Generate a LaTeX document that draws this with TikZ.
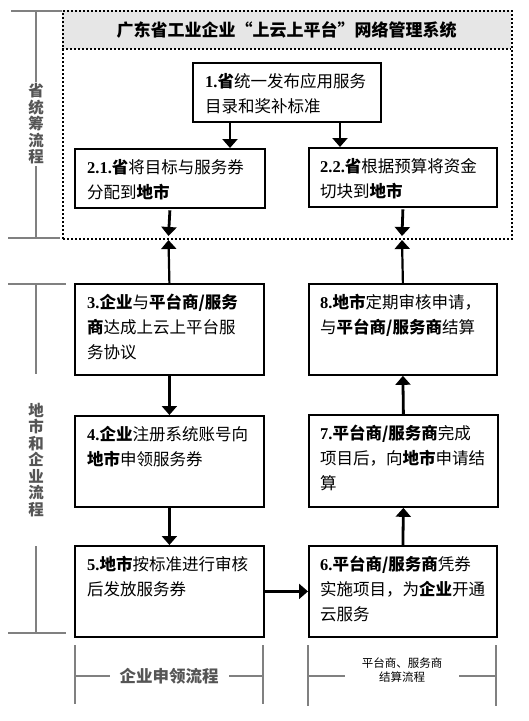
\documentclass[tikz,border=0pt]{standalone}
\usepackage{fontspec}
\setmainfont{Noto Sans CJK SC}
\newfontfamily\numf{Liberation Serif}
\usetikzlibrary{arrows.meta,calc}
\definecolor{hdrgray}{HTML}{E6E6E6}
\definecolor{lblgray}{HTML}{555555}
\definecolor{brgray}{HTML}{808080}
\newcommand\Bd[1]{\textbf{#1}}
\newcommand\Nm[1]{{\numf\bfseries #1}}
\begin{document}
\begin{tikzpicture}[x=1pt,y=-1pt,
  box/.style={draw, line width=1.8pt, anchor=north west, inner sep=0pt},
  txt/.style={anchor=north west, inner sep=0pt, align=left, font=\fontsize{16.5pt}{25pt}\selectfont},
  arr/.style={line width=2.8pt, -{Triangle[length=9pt,width=15pt]}},
  arrup/.style={line width=2.2pt, -{Triangle[length=9pt,width=15pt]}},
  dots/.style={line width=2pt, dash pattern=on 2pt off 2pt},
  brk/.style={draw=brgray, line width=1.6pt},
  side/.style={fill=white, text=lblgray, font=\fontsize{15.5pt}{16.5pt}\selectfont\bfseries, align=center, inner xsep=2pt, inner ysep=1.5pt}
]
\useasboundingbox (0,0) rectangle (529,721);
\fill[white] (0,0) rectangle (529,721);

% system frame
\node[anchor=north west, fill=hdrgray, minimum width=449pt, minimum height=39pt, inner sep=0pt] (hdr) at (62,10) {};
\node[font=\fontsize{17pt}{20pt}\selectfont\bfseries] (title) at (hdr.center) {广东省工业企业“上云上平台”网络管理系统};
\node[anchor=north west, minimum width=449pt, minimum height=228pt, inner sep=0pt, draw, dots] (sys) at (62,10) {};
\draw[dots] (hdr.south west) -- (hdr.south east);

% boxes
\node[box, minimum width=188pt, minimum height=59pt] (b1) at (192,62) {};
\node[txt] (t1) at ($(b1.north west)+(13,7.5)$) {\strut\Nm{1.}\Bd{省}统一发布应用服务\\目录和奖补标准};

\node[box, minimum width=190pt, minimum height=59pt] (b21) at (74,148) {};
\node[txt] (t21) at ($(b21.north west)+(13,7.5)$) {\strut\Nm{2.1.}\Bd{省}将目标与服务券\\分配到\Bd{地市}};

\node[box, minimum width=188pt, minimum height=59pt] (b22) at (308,147) {};
\node[txt] (t22) at ($(b22.north west)+(12,7.5)$) {\strut\Nm{2.2.}\Bd{省}根据预算将资金\\切块到\Bd{地市}};

\node[box, minimum width=189pt, minimum height=91pt] (b3) at (74,283) {};
\node[txt] (t3) at ($(b3.north west)+(13,7.5)$) {\strut\Nm{3.}\Bd{企业}与\Bd{平台商/服务}\\\Bd{商}达成上云上平台服\\务协议};

\node[box, minimum width=188pt, minimum height=91pt] (b8) at (308,283) {};
\node[txt] (t8) at ($(b8.north west)+(12,7.5)$) {\strut\Nm{8.}\Bd{地市}定期审核申请，\\与\Bd{平台商/服务商}结算};

\node[box, minimum width=189pt, minimum height=91pt] (b4) at (74,415) {};
\node[txt] (t4) at ($(b4.north west)+(13,7.5)$) {\strut\Nm{4.}\Bd{企业}注册系统账号向\\\Bd{地市}申领服务券};

\node[box, minimum width=189pt, minimum height=92pt] (b7) at (308,414) {};
\node[txt] (t7) at ($(b7.north west)+(12,7.5)$) {\strut\Nm{7.}\Bd{平台商/服务商}完成\\项目后，向\Bd{地市}申请结\\算};

\node[box, minimum width=189pt, minimum height=91pt] (b5) at (74,545) {};
\node[txt] (t5) at ($(b5.north west)+(13,7.5)$) {\strut\Nm{5.}\Bd{地市}按标准进行审核\\后发放服务券};

\node[box, minimum width=188pt, minimum height=91pt] (b6) at (308,545) {};
\node[txt] (t6) at ($(b6.north west)+(12,7.5)$) {\strut\Nm{6.}\Bd{平台商/服务商}凭券\\实施项目，为\Bd{企业}开通\\云服务};

% free ends at the frame
\coordinate (m1) at (168.5,236);
\coordinate (m2) at (168.5,240);
\coordinate (m3) at (402,236);
\coordinate (m4) at (402,240);

% connectors
\draw[arr] ($(b1.south west)+(38,0)$) -- ($(b21.north west)+(156,0)$);
\draw[arr] ($(b1.south west)+(148,0)$) -- ($(b22.north west)+(32,0)$);
\draw[arr] ($(b21.south)+(0,1.5)$) -- (m1);
\draw[arr] ($(b22.south)+(0,1.5)$) -- (m3);
\draw[arrup] (b3.north) -- (m2);
\draw[arrup] (b8.north) -- (m4);
\draw[arr] (b3.south) -- (b4.north);
\draw[arr] (b4.south) -- (b5.north);
\draw[arr] (b5.east) -- (b6.west);
\draw[arr] (b6.north) -- (b7.south);
\draw[arr] (b7.north) -- (b8.south);

% left brackets
\coordinate (l1a) at (11,11);
\coordinate (l1b) at (62,11);
\coordinate (l1c) at (36,11);
\coordinate (l1d) at (36,238);
\coordinate (l1e) at (8,238);
\coordinate (l1f) at (60,238);
\draw[brk] (l1a) -- (l1b);
\draw[brk] (l1c) -- (l1d);
\draw[brk] (l1e) -- (l1f);
\node[side] (s1) at (36,124) {省\\统\\筹\\流\\程};

\coordinate (l2a) at (8,284);
\coordinate (l2b) at (66,284);
\coordinate (l2c) at (36,284);
\coordinate (l2d) at (36,633);
\coordinate (l2e) at (8,633);
\coordinate (l2f) at (66,633);
\draw[brk] (l2a) -- (l2b);
\draw[brk] (l2c) -- (l2d);
\draw[brk] (l2e) -- (l2f);
\node[side, inner ysep=29pt] (s2) at (36,460) {地\\市\\和\\企\\业\\流\\程};

% bottom brackets
\coordinate (bl1) at (75,645);
\coordinate (bl2) at (75,704);
\coordinate (bl3) at (263,645);
\coordinate (bl4) at (263,704);
\coordinate (bl5) at (75,676);
\coordinate (bl6) at (263,676);
\draw[brk] (bl1) -- (bl2);
\draw[brk] (bl3) -- (bl4);
\draw[brk] (bl5) -- (bl6);
\node[fill=white, text=lblgray, font=\fontsize{16.5pt}{18pt}\selectfont\bfseries, inner xsep=10pt] (f1) at (169,676) {企业申领流程};

\coordinate (br1) at (308,645);
\coordinate (br2) at (308,706);
\coordinate (br3) at (496,645);
\coordinate (br4) at (496,706);
\coordinate (br5) at (308,676);
\coordinate (br6) at (496,676);
\draw[brk] (br1) -- (br2);
\draw[brk] (br3) -- (br4);
\draw[brk] (br5) -- (br6);
\node[fill=white, align=center, font=\fontsize{11.5pt}{14pt}\selectfont, inner xsep=17pt] (f2) at (402,670) {平台商、服务商\\结算流程};
\end{tikzpicture}
\end{document}
